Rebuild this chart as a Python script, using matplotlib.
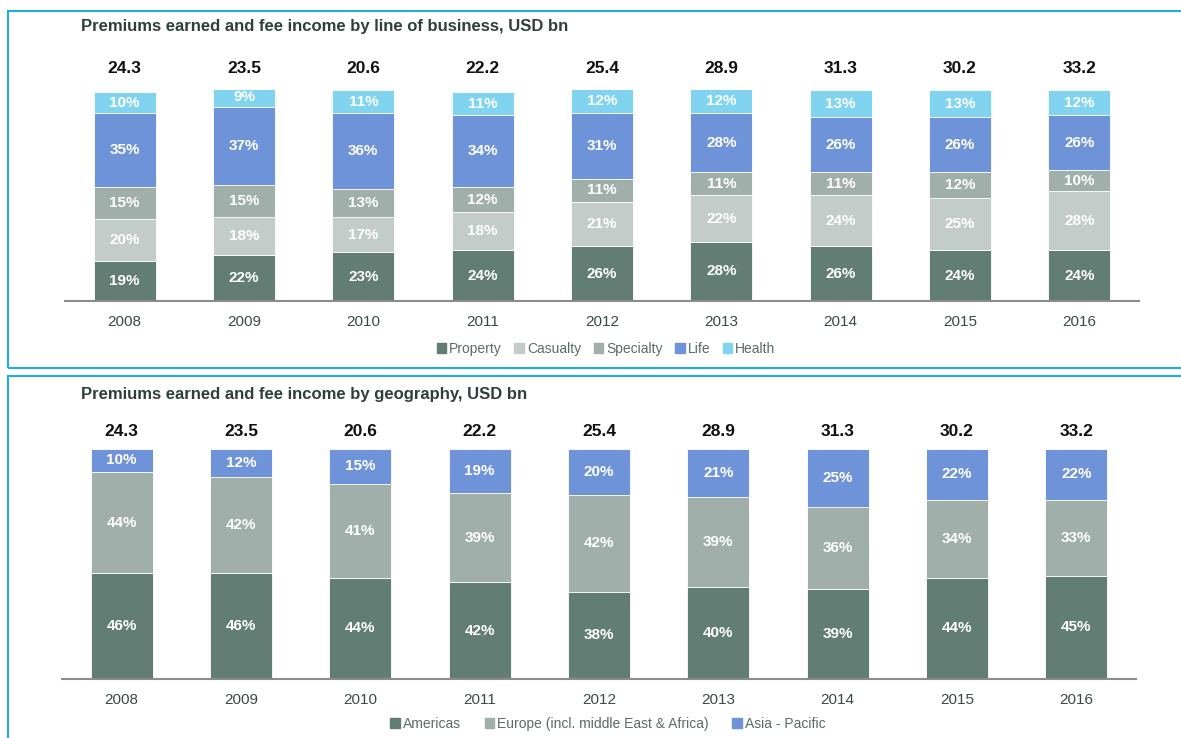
import numpy as np
import matplotlib
matplotlib.use('Agg')
import matplotlib.pyplot as plt
from matplotlib.patches import Rectangle, Patch

plt.rcParams['font.family'] = ['Liberation Sans', 'DejaVu Sans']

years = ['2008', '2009', '2010', '2011', '2012', '2013', '2014', '2015', '2016']
totals = ['24.3', '23.5', '20.6', '22.2', '25.4', '28.9', '31.3', '30.2', '33.2']

# line of business, % share
property_ = [19, 22, 23, 24, 26, 28, 26, 24, 24]
casualty = [20, 18, 17, 18, 21, 22, 24, 25, 28]
specialty = [15, 15, 13, 12, 11, 11, 11, 12, 10]
life = [35, 37, 36, 34, 31, 28, 26, 26, 26]
health = [10, 9, 11, 11, 12, 12, 13, 13, 12]

# geography, % share
americas = [46, 46, 44, 42, 38, 40, 39, 44, 45]
europe = [44, 42, 41, 39, 42, 39, 36, 34, 33]
asia = [10, 12, 15, 19, 20, 21, 25, 22, 22]

c_prop = '#627d74'
c_cas = '#c4ccc9'
c_spec = '#a1afaa'
c_life = '#6f93d8'
c_health = '#80d4ef'
border = '#1eaee3'
title_col = '#2f3f3a'

W, H = 1181, 738
fig = plt.figure(figsize=(W / 100, H / 100), dpi=100)


def fx(px):
    return px / W


def fy(py):
    return 1 - py / H


def stacked(ax, series, colors, total_y):
    x = np.arange(len(years))
    bottom = np.zeros(len(years))
    for vals, col in zip(series, colors):
        vals = np.array(vals, dtype=float)
        ax.bar(x, vals, 0.52, bottom=bottom, color=col, edgecolor='white', linewidth=0.6)
        for xi, b, v in zip(x, bottom, vals):
            ax.text(xi, b + v / 2, f'{int(v)}%', ha='center', va='center',
                    color='white', fontsize=11, fontweight='bold')
        bottom += vals
    for xi, t in zip(x, totals):
        ax.text(xi, total_y, t, ha='center', va='center', fontsize=12.5,
                fontweight='bold', color='#111111', clip_on=False)
    ax.set_xlim(-0.5, len(years) - 0.5)
    ax.set_ylim(0, 100)
    ax.set_xticks(x)
    ax.set_xticklabels(years, fontsize=11, color='#3a4a45')
    ax.tick_params(axis='x', length=0, pad=10)
    ax.set_yticks([])
    for s in ['top', 'right', 'left']:
        ax.spines[s].set_visible(False)
    ax.spines['bottom'].set_color('#8c8c8c')
    ax.spines['bottom'].set_linewidth(1.5)


# top panel
ax1 = fig.add_axes([fx(65), fy(301), fx(1074), (301 - 90) / H])
stacked(ax1, [property_, casualty, specialty, life, health],
        [c_prop, c_cas, c_spec, c_life, c_health], 110)

# bottom panel
ax2 = fig.add_axes([fx(62), fy(679), fx(1074), (679 - 449) / H])
stacked(ax2, [americas, europe, asia], [c_prop, c_spec, c_life], 107.5)

# panel frames
fig.patches.append(Rectangle((fx(8), fy(368)), fx(1190), (368 - 11) / H,
                             transform=fig.transFigure, fill=False,
                             edgecolor=border, linewidth=1.5))
fig.patches.append(Rectangle((fx(8), fy(745)), fx(1190), (745 - 376) / H,
                             transform=fig.transFigure, fill=False,
                             edgecolor=border, linewidth=1.5))

fig.text(fx(81), fy(27), 'Premiums earned and fee income by line of business, USD bn',
         fontsize=12, fontweight='bold', color=title_col, va='center')
fig.text(fx(81), fy(394), 'Premiums earned and fee income by geography, USD bn',
         fontsize=12, fontweight='bold', color=title_col, va='center')

leg_kw = dict(frameon=False, handlelength=0.7, handleheight=0.7, handletextpad=0.2,
              prop={'size': 10}, labelcolor='#5b6b66', loc='center')
fig.legend([Patch(color=c) for c in [c_prop, c_cas, c_spec, c_life, c_health]],
           ['Property', 'Casualty', 'Specialty', 'Life', 'Health'],
           ncol=5, columnspacing=0.9, bbox_to_anchor=(fx(606), fy(349)), **leg_kw)
fig.legend([Patch(color=c) for c in [c_prop, c_spec, c_life]],
           ['Americas', 'Europe (incl. middle East & Africa)', 'Asia - Pacific'],
           ncol=3, columnspacing=1.7, bbox_to_anchor=(fx(608), fy(724)), **leg_kw)

fig.savefig('out.png', dpi=100)
